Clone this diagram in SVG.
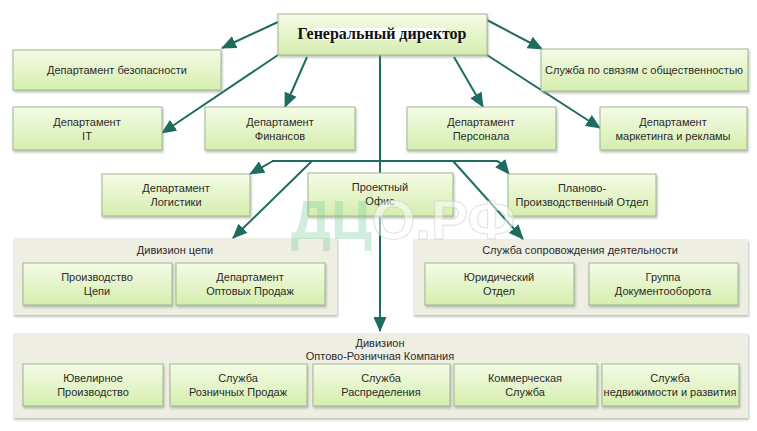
<svg xmlns="http://www.w3.org/2000/svg" width="757" height="431" viewBox="0 0 757 431">
<defs>
<linearGradient id="g" x1="0" y1="0" x2="0" y2="1">
<stop offset="0" stop-color="#f5fbe6"/>
<stop offset="1" stop-color="#d5eeae"/>
</linearGradient>
<filter id="sh" x="-5%" y="-10%" width="110%" height="130%">
<feDropShadow dx="1" dy="2" stdDeviation="1.2" flood-color="#7d8a78" flood-opacity="0.5"/>
</filter>
<marker id="ah" markerUnits="userSpaceOnUse" markerWidth="15" markerHeight="13" refX="14" refY="6.5" orient="auto">
<path d="M0,0 L15,6.5 L0,13 z" fill="#1e6c5f"/>
</marker>
<style>
.box{fill:url(#g);stroke:#9fb894;stroke-width:1;filter:url(#sh)}
.div{fill:#eeeee3;filter:url(#sh)}
.t{font-family:"Liberation Sans",Arial,sans-serif;font-size:11px;fill:#2b2b2b;text-anchor:middle}
.gd{font-family:"Liberation Serif","Times New Roman",serif;font-size:16px;font-weight:bold;fill:#111;text-anchor:middle}
.c{stroke:#1e6c5f;stroke-width:2;fill:none}
.ca{stroke:#1e6c5f;stroke-width:2;fill:none;marker-end:url(#ah)}
</style>
</defs>
<rect width="757" height="431" fill="#ffffff"/>

<g id="div-chain">
<rect class="div" x="13" y="238" width="324" height="77"/>
<text class="t" x="175" y="254">Дивизион цепи</text>
</g>
<g id="div-support">
<rect class="div" x="413" y="239" width="335" height="76"/>
<text class="t" x="580" y="254">Служба сопровождения деятельности</text>
</g>
<g id="div-retail">
<rect class="div" x="13" y="333" width="735" height="85"/>
<text class="t" x="380" y="347">Дивизион</text>
<text class="t" x="380" y="360">Оптово-Розничная Компания</text>
</g>

<g id="connectors">
<line class="c" x1="380" y1="55" x2="380" y2="300"/>
<line class="ca" x1="380" y1="290" x2="380" y2="331"/>
<line class="ca" x1="278" y1="22" x2="222" y2="48"/>
<line class="ca" x1="278" y1="55" x2="162" y2="133"/>
<line class="ca" x1="307" y1="57" x2="285" y2="107"/>
<line class="ca" x1="487" y1="20" x2="542" y2="49"/>
<line class="ca" x1="454" y1="57" x2="483" y2="107"/>
<line class="ca" x1="487" y1="55" x2="600" y2="128"/>
<line class="c" x1="272" y1="161" x2="497" y2="161"/>
<line class="ca" x1="273" y1="161" x2="250" y2="174"/>
<path class="ca" d="M496,161 Q499,161 501,164 L509,174"/>
<line class="ca" x1="312" y1="161" x2="233" y2="238"/>
<line class="ca" x1="453" y1="161" x2="523" y2="239"/>
</g>

<g id="gd">
<rect class="box" x="278" y="14" width="209" height="41"/>
<rect x="313" y="28" width="132" height="12" fill="#ffffff"/>
<text class="gd" x="382" y="39">Генеральный директор</text>
</g>
<g id="sec">
<rect class="box" x="13" y="50" width="208" height="40"/>
<text class="t" x="117" y="74">Департамент безопасности</text>
</g>
<g id="pr">
<rect class="box" x="541" y="49" width="207" height="42"/>
<text class="t" x="644" y="74">Служба по связям с общественностью</text>
</g>
<g id="it">
<rect class="box" x="13" y="107" width="149" height="43"/>
<text class="t" x="87" y="126">Департамент</text>
<text class="t" x="87" y="140">IT</text>
</g>
<g id="fin">
<rect class="box" x="205" y="107" width="150" height="43"/>
<text class="t" x="280" y="126">Департамент</text>
<text class="t" x="280" y="140">Финансов</text>
</g>
<g id="hr">
<rect class="box" x="407" y="107" width="149" height="43"/>
<text class="t" x="481" y="126">Департамент</text>
<text class="t" x="481" y="140">Персонала</text>
</g>
<g id="mkt">
<rect class="box" x="600" y="107" width="147" height="43"/>
<text class="t" x="673" y="126">Департамент</text>
<text class="t" x="673" y="140">маркетинга и рекламы</text>
</g>
<g id="log">
<rect class="box" x="102" y="174" width="148" height="42"/>
<text class="t" x="176" y="192">Департамент</text>
<text class="t" x="176" y="206">Логистики</text>
</g>
<g id="proj">
<rect class="box" x="308" y="173" width="145" height="43"/>
<text class="t" x="380" y="191">Проектный</text>
<text class="t" x="380" y="205">Офис</text>
</g>
<g id="plan">
<rect class="box" x="508" y="174" width="148" height="42"/>
<text class="t" x="582" y="192">Планово-</text>
<text class="t" x="582" y="206">Производственный Отдел</text>
</g>

<g id="chain-prod">
<rect class="box" x="23" y="263" width="149" height="42"/>
<text class="t" x="97" y="281">Производство</text>
<text class="t" x="97" y="295">Цепи</text>
</g>
<g id="wholesale">
<rect class="box" x="176" y="263" width="149" height="42"/>
<text class="t" x="250" y="281">Департамент</text>
<text class="t" x="250" y="295">Оптовых Продаж</text>
</g>
<g id="legal">
<rect class="box" x="425" y="263" width="149" height="42"/>
<text class="t" x="499" y="281">Юридический</text>
<text class="t" x="499" y="295">Отдел</text>
</g>
<g id="docs">
<rect class="box" x="589" y="263" width="149" height="42"/>
<text class="t" x="663" y="281">Группа</text>
<text class="t" x="663" y="295">Документооборота</text>
</g>

<g id="jewel">
<rect class="box" x="23" y="364" width="140" height="42"/>
<text class="t" x="93" y="382">Ювелирное</text>
<text class="t" x="93" y="396">Производство</text>
</g>
<g id="retail">
<rect class="box" x="170" y="364" width="137" height="42"/>
<text class="t" x="238" y="382">Служба</text>
<text class="t" x="238" y="396">Розничных Продаж</text>
</g>
<g id="distr">
<rect class="box" x="313" y="364" width="137" height="42"/>
<text class="t" x="381" y="382">Служба</text>
<text class="t" x="381" y="396">Распределения</text>
</g>
<g id="comm">
<rect class="box" x="454" y="364" width="143" height="42"/>
<text class="t" x="525" y="382">Коммерческая</text>
<text class="t" x="525" y="396">Служба</text>
</g>
<g id="estate">
<rect class="box" x="602" y="364" width="137" height="42"/>
<text class="t" x="670" y="382">Служба</text>
<text class="t" x="670" y="396">недвижимости и развития</text>
</g>

<text x="291" y="239" font-family="'Liberation Sans',Arial,sans-serif" font-size="56" font-weight="bold"><tspan fill="#7ccf9c" fill-opacity="0.35">ДЦ</tspan><tspan fill="#ffffff" fill-opacity="0.5" stroke="#c9cfc6" stroke-opacity="0.6" stroke-width="1">О.РФ</tspan></text>
</svg>
